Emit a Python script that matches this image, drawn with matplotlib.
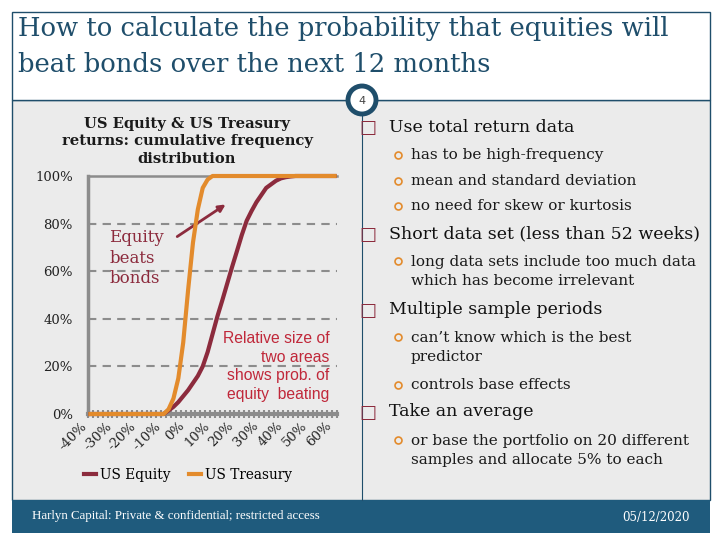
import matplotlib.pyplot as plt
import matplotlib.patches as mpatches
import matplotlib.transforms as mtransforms
import numpy as np

# chart data: cumulative frequency of 12-month returns
returns = list(range(-40, 61, 2))
equity_cdf = [0.0] * 15 + [0.0, 0.015, 0.03, 0.05, 0.075, 0.10, 0.13, 0.16, 0.20, 0.26,
                           0.335, 0.41, 0.477, 0.547, 0.617, 0.684, 0.752, 0.812, 0.853,
                           0.89, 0.92, 0.95, 0.965, 0.98, 0.99, 0.995, 0.998] + [1.0] * 9
treasury_cdf = [0.0] * 15 + [0.0, 0.02, 0.065, 0.15, 0.30, 0.52, 0.72, 0.86, 0.95,
                             0.985, 1.0] + [1.0] * 25
y_ticks = [0, 0.2, 0.4, 0.6, 0.8, 1.0]
x_labels = ['-40%', '-30%', '-20%', '-10%', '0%', '10%', '20%', '30%', '40%', '50%', '60%']

title = 'How to calculate the probability that equities will\nbeat bonds over the next 12 months'
chart_title = 'US Equity & US Treasury\nreturns: cumulative frequency\ndistribution'
bullets = [
    (0, 'Use total return data', 127),
    (1, 'has to be high-frequency', 155),
    (1, 'mean and standard deviation', 181),
    (1, 'no need for skew or kurtosis', 206),
    (0, 'Short data set (less than 52 weeks)', 234),
    (1, 'long data sets include too much data\nwhich has become irrelevant', 271.5),
    (0, 'Multiple sample periods', 310),
    (1, 'can\u2019t know which is the best\npredictor', 347.5),
    (1, 'controls base effects', 385),
    (0, 'Take an average', 412),
    (1, 'or base the portfolio on 20 different\nsamples and allocate 5% to each', 450.5),
]

navy = '#1F4E6B'
eq_col = '#8C2B3D'
tr_col = '#E38B2C'
grey = '#8C8C8C'
serif = 'DejaVu Serif'

fig = plt.figure(figsize=(7.2, 5.4), dpi=100)
bg = fig.add_axes([0, 0, 1, 1])
bg.set_xlim(0, 720)
bg.set_ylim(540, 0)
bg.axis('off')

# slide frame
bg.add_patch(mpatches.Rectangle((12, 100), 698, 400, facecolor='#EBEBEB', edgecolor=navy, lw=1))
bg.add_patch(mpatches.Rectangle((12, 12), 698, 88, facecolor='white', edgecolor=navy, lw=1))
bg.add_patch(mpatches.Rectangle((12, 500), 698, 33, facecolor='#1F5B7D', edgecolor='none'))
bg.plot([362, 362], [100, 500], color=navy, lw=0.8)
bg.add_patch(mpatches.Circle((362, 100), 14, facecolor='white', edgecolor=navy, lw=3.5, zorder=5))
bg.text(362, 101, '4', ha='center', va='center', fontsize=8, color='#444444', zorder=6)

bg.text(18, 46.5, title, ha='left', va='center', fontsize=18.6, family=serif, color=navy,
        linespacing=1.55)
bg.text(32, 516, 'Harlyn Capital: Private & confidential; restricted access', ha='left', va='center',
        fontsize=9.3, family='Liberation Serif', color='white')
bg.text(690, 518, '05/12/2020', ha='right', va='center', fontsize=8.5, family=serif, color='white')

bg.text(187, 141.5, chart_title, ha='center', va='center', fontsize=10.6, family=serif,
        fontweight='bold', color='#1a1a1a', linespacing=1.3)

# bullets on the right
for level, txt, y in bullets:
    if level == 0:
        bg.text(368, y + 1, '\u25a1', ha='center', va='center', fontsize=13, color=eq_col)
        bg.text(389, y, txt, ha='left', va='center', fontsize=12.5, family=serif, color='#111111')
    else:
        first_y = y - 10.5 if '\n' in txt else y
        bg.plot(398, first_y, marker='o', ms=5, mfc='none', mec=tr_col, mew=1.2)
        bg.text(411, y, txt, ha='left', va='center', fontsize=11, family=serif, color='#1a1a1a',
                linespacing=1.4)

# chart
ax = fig.add_axes([88 / 720, (540 - 414) / 540, 249 / 720, 238 / 540])
ax.set_facecolor('none')
xpos = np.arange(len(returns))
ax.plot(xpos, equity_cdf, color=eq_col, lw=3, label='US Equity', clip_on=False,
        solid_joinstyle='round', zorder=3)
ax.plot(xpos, treasury_cdf, color=tr_col, lw=3, label='US Treasury', clip_on=False,
        solid_joinstyle='round', zorder=4)
ax.set_xlim(-0.5, len(returns) - 0.5)
ax.set_ylim(0, 1)
for yv in y_ticks[1:-1]:
    ax.axhline(yv, color=grey, lw=1.5, ls=(0, (4, 3)), zorder=1)
ax.spines['right'].set_visible(False)
ax.spines['top'].set_color(grey)
ax.spines['top'].set_linewidth(1.8)
ax.spines['left'].set_color(grey)
ax.spines['left'].set_linewidth(2.5)
ax.spines['bottom'].set_color(grey)
ax.spines['bottom'].set_linewidth(3)
ax.set_yticks(y_ticks)
ax.set_yticklabels(['%d%%' % round(v * 100) for v in y_ticks])
ax.tick_params(axis='y', length=0, pad=11, colors='#222222', labelsize=9.5)
ax.set_xticks(xpos[::5])
ax.set_xticklabels(x_labels, rotation=45, ha='right', rotation_mode='anchor')
ax.tick_params(axis='x', length=0, pad=4, colors='#222222', labelsize=9.5)
ax.set_xticks(np.arange(len(returns) + 1) - 0.5, minor=True)
ax.tick_params(axis='x', which='minor', length=6, width=1.5, direction='inout', color=grey)
shift = mtransforms.ScaledTranslation(-7 / 72, 0, fig.dpi_scale_trans)
for lab in ax.get_xticklabels():
    lab.set_family(serif)
    lab.set_transform(lab.get_transform() + shift)
for lab in ax.get_yticklabels():
    lab.set_family(serif)

ax.text(0.085, 0.655, 'Equity\nbeats\nbonds', transform=ax.transAxes, ha='left', va='center',
        fontsize=12, family=serif, color=eq_col, linespacing=1.29)
ax.annotate('', xy=(0.562, 0.887), xytext=(0.349, 0.739), xycoords='axes fraction',
            arrowprops=dict(arrowstyle='-|>', color=eq_col, lw=2, mutation_scale=10))
ax.text(0.97, 0.2, 'Relative size of\ntwo areas\nshows prob. of\nequity  beating', transform=ax.transAxes,
        ha='right', va='center', fontsize=11.3, family='Liberation Sans', color='#C0283A',
        linespacing=1.3)

fig.legend(loc='center', bbox_to_anchor=(188 / 720, 1 - 475 / 540), ncol=2, frameon=False,
           prop={'family': serif, 'size': 9.8}, handlelength=0.9, handletextpad=0.3,
           columnspacing=1.3)

fig.savefig('out.png', dpi=100)
